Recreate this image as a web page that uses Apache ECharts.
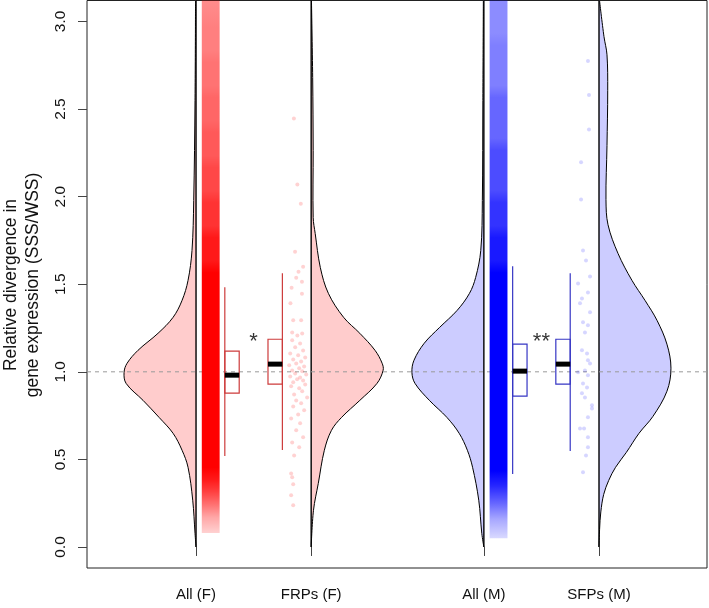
<!DOCTYPE html>
<html><head><meta charset="utf-8">
<script src="https://cdn.jsdelivr.net/npm/echarts@6/dist/echarts.min.js"></script>
<style>html,body{margin:0;padding:0;background:#fff}#c{width:709px;height:608px}</style>
</head><body><div id="c"></div>
<script>
// ---------- data ----------
const categories = ['All (F)', 'FRPs (F)', 'All (M)', 'SFPs (M)'];
const categoryPos = [1, 2, 3.5, 4.5];
const yTicks = [0, 0.5, 1, 1.5, 2, 2.5, 3];
const referenceLevel = 1.0;

// half-violin density profiles: [value, relative density]
const violinAllF = [[3.12,0.007],[2.549,0.014],[1.978,0.032],[1.693,0.056],[1.522,0.111],[1.408,0.194],[1.311,0.319],[1.22,0.528],[1.123,0.806],[1.049,0.958],[0.997,1.0],[0.934,0.972],[0.837,0.736],[0.74,0.514],[0.649,0.319],[0.552,0.194],[0.455,0.111],[0.267,0.046],[0.078,0.014],[0,0]];
const violinFRPs = [[3.12,0.004],[2.68,0.021],[2.263,0.028],[1.881,0.028],[1.79,0.056],[1.596,0.127],[1.448,0.239],[1.311,0.451],[1.22,0.676],[1.123,0.887],[1.049,0.986],[1.009,1.0],[0.934,0.915],[0.837,0.676],[0.74,0.423],[0.666,0.282],[0.552,0.183],[0.363,0.099],[0.209,0.032],[0,0]];
const violinAllM = [[3.12,0.007],[2.549,0.014],[1.978,0.021],[1.693,0.043],[1.539,0.114],[1.448,0.2],[1.351,0.371],[1.254,0.614],[1.163,0.829],[1.066,0.971],[0.997,1.0],[0.934,0.957],[0.837,0.757],[0.74,0.514],[0.649,0.343],[0.552,0.229],[0.455,0.157],[0.267,0.071],[0.078,0.029],[0,0]];
const violinSFPs = [[3.12,0.007],[2.914,0.069],[2.81,0.111],[2.605,0.121],[2.292,0.111],[1.983,0.097],[1.84,0.125],[1.676,0.264],[1.522,0.458],[1.408,0.639],[1.294,0.806],[1.158,0.944],[1.021,1.0],[0.889,0.944],[0.746,0.75],[0.649,0.556],[0.54,0.38],[0.455,0.23],[0.38,0.135],[0.3,0.065],[0.2,0.025],[0.1,0.008],[0,0]];

// box stats: [lower whisker, Q1, median, Q3, upper whisker]
const boxAllF = [0.519, 0.878, 0.981, 1.118, 1.483];
const boxFRPs = [0.553, 0.930, 1.044, 1.186, 1.563];
const boxAllM = [0.416, 0.861, 1.004, 1.158, 1.603];
const boxSFPs = [0.548, 0.930, 1.044, 1.186, 1.563];

// dense point clouds (thousands of genes): [from, to, point coverage]
const cloudAllF = [[3.0,3.12,0.45],[2.8,3.0,0.5],[2.6,2.8,0.55],[2.4,2.6,0.6],[2.2,2.4,0.65],[2.0,2.2,0.72],[1.8,2.0,0.8],[1.6,1.8,0.9],[0.42,1.6,1.0],[0.35,0.42,0.9],[0.28,0.35,0.75],[0.2,0.28,0.55],[0.14,0.2,0.35],[0.08,0.14,0.18]];
const cloudAllM = [[2.9,3.12,0.45],[2.6,2.9,0.5],[2.3,2.6,0.6],[2.0,2.3,0.7],[1.8,2.0,0.8],[1.6,1.8,0.9],[0.4,1.6,1.0],[0.3,0.4,0.85],[0.2,0.3,0.6],[0.12,0.2,0.35],[0.05,0.12,0.15]];

// individual genes (values) and their jitter (distance from violin axis)
const frpValues = [2.446,2.069,1.960,1.686,1.600,1.571,1.537,1.514,1.480,1.446,1.391,1.294,1.294,1.225,1.219,1.208,1.180,1.162,1.140,1.122,1.105,1.094,1.082,1.071,1.059,1.048,1.037,1.031,1.020,1.008,1.003,0.991,0.985,0.974,0.968,0.957,0.951,0.940,0.928,0.917,0.906,0.889,0.871,0.854,0.837,0.820,0.802,0.780,0.757,0.734,0.706,0.666,0.626,0.597,0.569,0.523,0.420,0.398,0.358,0.295,0.238];
const frpJitter = [0.15,0.12,0.09,0.14,0.07,0.11,0.13,0.08,0.17,0.08,0.18,0.156,0.087,0.165,0.078,0.12,0.165,0.096,0.139,0.07,0.182,0.113,0.052,0.156,0.087,0.13,0.191,0.061,0.104,0.165,0.078,0.139,0.043,0.182,0.096,0.122,0.07,0.156,0.052,0.174,0.104,0.078,0.148,0.035,0.13,0.087,0.156,0.061,0.113,0.174,0.096,0.13,0.07,0.165,0.104,0.148,0.174,0.165,0.156,0.174,0.156];
const sfpValues = [2.774,2.580,2.384,2.196,1.984,1.692,1.635,1.544,1.504,1.453,1.419,1.391,1.340,1.283,1.266,1.225,1.123,1.105,1.066,1.048,1.008,0.997,0.980,0.934,0.911,0.877,0.854,0.809,0.791,0.740,0.677,0.677,0.626,0.569,0.523,0.426];
const sfpJitter = [0.096,0.087,0.087,0.156,0.156,0.139,0.113,0.078,0.182,0.096,0.148,0.165,0.078,0.139,0.096,0.122,0.148,0.104,0.096,0.078,0.122,0.182,0.096,0.139,0.104,0.148,0.122,0.061,0.061,0.096,0.165,0.13,0.096,0.096,0.113,0.139];

const signifLabels = ['*', '**'];

// ---------- layout / style ----------
const X_MIN = 0.053, X_MAX = 5.438, Y_MIN = -0.12, Y_MAX = 3.12;
const VIOLIN_W = 0.625;
const CLOUD_OFF = [0.05, 0.205];
const BOX_OFF = [0.25, 0.375];
const FONT = '"Liberation Sans", Arial, Helvetica, sans-serif';
const PINK = '#ffcccc', LAV = '#ccccff';
const RED_BOX = '#cd3b3b', BLUE_BOX = '#3636c4';

function violinSeries(profile, pos, side, fill) {
  return {
    type: 'custom', silent: true, z: 1, data: [[pos, 1]],
    renderItem: function (p, api) {
      const curve = profile.map(d => api.coord([pos + side * d[1] * VIOLIN_W, d[0]]));
      const base = profile.slice().reverse().map(d => api.coord([pos, d[0]]));
      const top = api.coord([pos, Y_MAX]), bot = api.coord([pos, 0]);
      return { type: 'group', children: [
        { type: 'polygon', shape: { points: curve.concat(base), smooth: 0.35 },
          style: { fill: fill, stroke: null } },
        { type: 'polyline', shape: { points: curve, smooth: 0.35 },
          style: { fill: null, stroke: '#000', lineWidth: 1 } },
        { type: 'line', shape: { x1: top[0], y1: top[1], x2: bot[0], y2: bot[1] },
          style: { stroke: '#000', lineWidth: 1.4 } }
      ]};
    }
  };
}

// one strip per cloud, its coverage shaded through a vertical gradient placed by the y scale
function cloudSeries(bins, pos, side, rgb) {
  return {
    type: 'custom', silent: true, z: 3, data: [[pos, 1]],
    renderItem: function (p, api) {
      const hiV = Math.max.apply(null, bins.map(b => b[1]));
      const loV = Math.min.apply(null, bins.map(b => b[0]));
      const p1 = api.coord([pos + side * CLOUD_OFF[0], hiV]);
      const p2 = api.coord([pos + side * CLOUD_OFF[1], loV]);
      const h = p2[1] - p1[1];
      const sorted = bins.slice().sort((a, b) => b[1] - a[1]);
      const stops = [];
      sorted.forEach(b => {
        const yA = api.coord([pos, b[1]])[1], yB = api.coord([pos, b[0]])[1];
        const mid = (yA + yB) / 2;
        const c = 'rgba(' + rgb + ',' + b[2] + ')';
        if (yB - yA > 30) {
          stops.push({ offset: (yA - p1[1] + 6) / h, color: c });
          stops.push({ offset: (yB - p1[1] - 6) / h, color: c });
        } else {
          stops.push({ offset: (mid - p1[1]) / h, color: c });
        }
      });
      stops[0].offset = 0; stops[stops.length - 1].offset = 1;
      return { type: 'rect',
        shape: { x: Math.min(p1[0], p2[0]), y: p1[1], width: Math.abs(p2[0] - p1[0]), height: h },
        style: { fill: new echarts.graphic.LinearGradient(0, 0, 0, 1, stops) } };
    }
  };
}

function pointSeries(values, jitter, pos, side, color) {
  return {
    type: 'scatter', silent: true, z: 4, symbol: 'circle', symbolSize: 4,
    itemStyle: { color: color },
    data: values.map((v, i) => [pos + side * jitter[i], v])
  };
}

function boxSeries(stats, pos, side, color) {
  return {
    type: 'custom', silent: true, z: 5, data: [[pos, 1]],
    renderItem: function (p, api) {
      const xa = pos + side * BOX_OFF[0], xb = pos + side * BOX_OFF[1];
      const lo = stats[0], q1 = stats[1], med = stats[2], q3 = stats[3], hi = stats[4];
      const a = api.coord([xa, q3]), b = api.coord([xb, q1]);
      const w1 = api.coord([xa, hi]), w2 = api.coord([xa, lo]);
      const m1 = api.coord([xa, med]), m2 = api.coord([xb, med]);
      return { type: 'group', children: [
        { type: 'rect', shape: { x: Math.min(a[0], b[0]), y: a[1], width: Math.abs(b[0] - a[0]), height: b[1] - a[1] },
          style: { fill: null, stroke: color, lineWidth: 1.2 } },
        { type: 'line', shape: { x1: w1[0], y1: w1[1], x2: w2[0], y2: w2[1] },
          style: { stroke: color, lineWidth: 1.2 } },
        { type: 'line', shape: { x1: m1[0], y1: m1[1], x2: m2[0], y2: m2[1] },
          style: { stroke: '#000', lineWidth: 5 } }
      ]};
    }
  };
}

const chart = echarts.init(document.getElementById('c'), null, { renderer: 'canvas' });
chart.setOption({
  animation: false,
  backgroundColor: '#fff',
  grid: { left: 87, right: 2, top: 0.5, height: 567.5, show: true, borderColor: '#222', borderWidth: 1, backgroundColor: 'transparent' },
  xAxis: {
    type: 'value', min: X_MIN, max: X_MAX, splitLine: { show: false },
    axisLine: { show: false },
    axisTick: { show: true, customValues: categoryPos, length: 9, lineStyle: { color: '#444' } },
    axisLabel: { show: true, customValues: categoryPos, margin: 19, fontSize: 15, fontFamily: FONT, color: '#111',
      formatter: v => categories[categoryPos.indexOf(v)] || '' }
  },
  yAxis: {
    type: 'value', min: Y_MIN, max: Y_MAX, splitLine: { show: false },
    axisLine: { show: false },
    axisTick: { show: true, customValues: yTicks, length: 9, lineStyle: { color: '#444' } },
    axisLabel: { show: true, customValues: yTicks, rotate: 90, margin: 18, fontSize: 15.5, fontFamily: FONT, color: '#111',
      formatter: v => v.toFixed(1) }
  },
  graphic: [
    { type: 'text', x: 11, y: 285, rotation: Math.PI / 2, silent: true,
      style: { text: 'Relative divergence in', font: '17.5px ' + FONT, fill: '#111', align: 'center', verticalAlign: 'middle' } },
    { type: 'text', x: 33, y: 285, rotation: Math.PI / 2, silent: true,
      style: { text: 'gene expression (SSS/WSS)', font: '17.5px ' + FONT, fill: '#111', align: 'center', verticalAlign: 'middle' } }
  ],
  series: [
    violinSeries(violinAllF, categoryPos[0], -1, PINK),
    violinSeries(violinFRPs, categoryPos[1], 1, PINK),
    violinSeries(violinAllM, categoryPos[2], -1, LAV),
    violinSeries(violinSFPs, categoryPos[3], 1, LAV),
    { type: 'line', silent: true, z: 2, symbol: 'none', data: [[X_MIN, referenceLevel], [X_MAX, referenceLevel]],
      lineStyle: { color: '#999', width: 1, type: [4, 4] } },
    cloudSeries(cloudAllF, categoryPos[0], 1, '255,0,0'),
    cloudSeries(cloudAllM, categoryPos[2], 1, '0,0,255'),
    pointSeries(frpValues, frpJitter, categoryPos[1], -1, 'rgba(255,0,0,0.22)'),
    pointSeries(sfpValues, sfpJitter, categoryPos[3], -1, 'rgba(0,0,255,0.2)'),
    boxSeries(boxAllF, categoryPos[0], 1, RED_BOX),
    boxSeries(boxFRPs, categoryPos[1], -1, RED_BOX),
    boxSeries(boxAllM, categoryPos[2], 1, BLUE_BOX),
    boxSeries(boxSFPs, categoryPos[3], -1, BLUE_BOX),
    { type: 'scatter', silent: true, z: 6, symbolSize: 1, itemStyle: { color: 'rgba(0,0,0,0)' },
      data: [[ (categoryPos[0] + categoryPos[1]) / 2, 1.17, signifLabels[0]], [ (categoryPos[2] + categoryPos[3]) / 2, 1.17, signifLabels[1]]],
      label: { show: true, position: 'inside', formatter: p => p.data[2], fontSize: 22, fontFamily: FONT, color: '#000' } }
  ]
});
</script></body></html>
